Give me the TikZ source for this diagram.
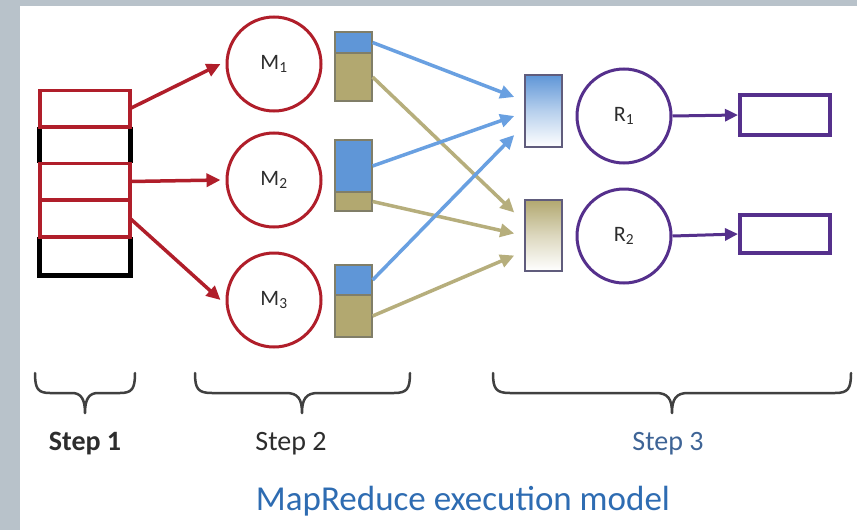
\documentclass[tikz,border=0pt]{standalone}
\usepackage{fontspec}
\setmainfont{Carlito}
\usetikzlibrary{arrows.meta,calc}
\definecolor{mred}{RGB}{176,30,42}
\definecolor{mblue}{RGB}{95,150,215}
\definecolor{ablue}{RGB}{105,160,225}
\definecolor{mtan}{RGB}{178,168,112}
\definecolor{atan}{RGB}{182,174,124}
\definecolor{mpurp}{RGB}{85,48,140}
\definecolor{bggray}{RGB}{184,194,202}
\definecolor{titleblue}{RGB}{46,108,178}
\definecolor{stepblue}{RGB}{62,100,150}
\definecolor{boxedge}{RGB}{128,126,104}
\definecolor{redge}{RGB}{96,92,124}
\definecolor{bracegray}{RGB}{64,64,64}
\definecolor{labelgray}{RGB}{45,45,45}
\begin{document}
\begin{tikzpicture}[x=1pt,y=-1pt,
  rowbox/.style={minimum width=90pt,minimum height=36.5pt,inner sep=0pt},
  redrow/.style={rowbox,draw=mred,line width=3.5pt},
  blackside/.style={draw=black,line width=5pt},
  mapnode/.style={circle,draw=mred,line width=3pt,minimum size=94pt,inner sep=0pt,
    font=\fontsize{22}{26}\selectfont,text=labelgray},
  rednode/.style={circle,draw=mpurp,line width=3pt,minimum size=94pt,inner sep=0pt,
    font=\fontsize{22}{26}\selectfont,text=labelgray},
  part/.style={draw=boxedge,line width=1.2pt,minimum width=37pt,inner sep=0pt},
  rinbox/.style={draw=redge,line width=1.5pt,minimum width=37pt,inner sep=0pt},
  outbox/.style={draw=mpurp,line width=4pt,minimum width=90pt,inner sep=0pt},
  redarrow/.style={draw=mred,line width=3.5pt,-{Triangle[length=14pt,width=13pt]}},
  bluearrow/.style={draw=ablue,line width=3.5pt,-{Triangle[length=14pt,width=13pt]}},
  tanarrow/.style={draw=atan,line width=3.5pt,-{Triangle[length=14pt,width=13pt]}},
  purparrow/.style={draw=mpurp,line width=3pt,-{Triangle[length=13pt,width=12pt]}},
  bracestyle/.style={draw=bracegray,line width=2.5pt,line cap=round,line join=round},
  steplabel/.style={anchor=base,font=\fontsize{28}{32}\selectfont,text=labelgray}
]
\useasboundingbox (0,0) rectangle (857,530);
\fill[bggray] (0,0) rectangle (857,530);
\fill[white] (20,6) rectangle (857,530);

% input splits
\node[rowbox] (r1) at (85,108.5) {};
\node[rowbox] (r2) at (85,145) {};
\node[rowbox] (r3) at (85,181.5) {};
\node[rowbox] (r4) at (85,218.5) {};
\node[rowbox,minimum height=38pt] (r5) at (85,256) {};
\draw[blackside] (r2.north west) -- (r2.south west) (r2.north east) -- (r2.south east);
\draw[blackside] (r5.north west) -- (r5.south west) -- (r5.south east) -- (r5.north east);
\node[redrow] at (r1) {};
\node[redrow] at (r3) {};
\node[redrow] at (r4) {};

% mappers
\node[mapnode] (m1) at (274,64) {M\textsubscript{1}};
\node[mapnode] (m2) at (274,180) {M\textsubscript{2}};
\node[mapnode] (m3) at (274,300) {M\textsubscript{3}};

% mapper outputs
\node[part,fill=mblue,minimum height=21pt] (mb1) at (353.5,42.5) {};
\node[part,fill=mtan,minimum height=48pt] (mt1) at (353.5,77) {};
\node[part,fill=mblue,minimum height=52pt] (mb2) at (353.5,166) {};
\node[part,fill=mtan,minimum height=19pt] (mt2) at (353.5,201.5) {};
\node[part,fill=mblue,minimum height=30pt] (mb3) at (353.5,280) {};
\node[part,fill=mtan,minimum height=42pt] (mt3) at (353.5,316) {};

% reducer inputs
\node[rinbox,minimum height=72pt,top color=mblue,bottom color=white,middle color=mblue!45] (rb1) at (543.5,111) {};
\node[rinbox,minimum height=71pt,top color=mtan,bottom color=white,middle color=mtan!45] (rb2) at (543.5,235.5) {};

% reducers
\node[rednode] (rc1) at (624,116) {R\textsubscript{1}};
\node[rednode] (rc2) at (624,236) {R\textsubscript{2}};

% outputs
\node[outbox,minimum height=40pt] (o1) at (785,115) {};
\node[outbox,minimum height=38pt] (o2) at (785,234) {};

% arrows
\draw[redarrow] (r1.east) -- ([xshift=-5pt]m1.west);
\draw[redarrow] (r3.east) -- ([xshift=-5pt]m2.west);
\draw[redarrow] (r4.east) -- ([xshift=-5pt]m3.west);

\draw[tanarrow] (mt1.east) -- ($(rb2.west)+(-10,-23)$);
\draw[tanarrow] (mt2.east) -- ($(rb2.west)+(-10,-2)$);
\draw[tanarrow] (mt3.east) -- ($(rb2.west)+(-10,20)$);
\draw[bluearrow] (mb1.east) -- ($(rb1.west)+(-10,-14)$);
\draw[bluearrow] (mb2.east) -- ($(rb1.west)+(-10,5)$);
\draw[bluearrow] (mb3.east) -- ($(rb1.west)+(-10,24)$);

\draw[purparrow] (rc1.east) -- (o1.west);
\draw[purparrow] (rc2.east) -- (o2.west);

% braces
\draw[bracestyle] (35,373) .. controls (35,389) and (38,393) .. (50,393) -- (72,393)
  .. controls (81,393) and (85,399) .. (85,413)
  .. controls (85,399) and (89,393) .. (98,393) -- (120,393)
  .. controls (132,393) and (135,389) .. (135,373);
\draw[bracestyle] (195,373) .. controls (195,389) and (198,393) .. (212,393) -- (286,393)
  .. controls (298,393) and (302,399) .. (302,413)
  .. controls (302,399) and (306,393) .. (318,393) -- (394,393)
  .. controls (407,393) and (410,389) .. (410,373);
\draw[bracestyle] (493,373) .. controls (493,389) and (496,393) .. (510,393) -- (656,393)
  .. controls (668,393) and (672,399) .. (672,413)
  .. controls (672,399) and (676,393) .. (688,393) -- (835,393)
  .. controls (848,393) and (851,389) .. (851,373);

% labels
\node[steplabel,font=\fontsize{28}{32}\selectfont\bfseries] (s1) at (85,450) {Step 1};
\node[steplabel] (s2) at (291,450) {Step 2};
\node[steplabel,text=stepblue] (s3) at (668,450) {Step 3};
\node[anchor=base,font=\fontsize{35}{40}\selectfont,text=titleblue] (title) at (463,510) {MapReduce execution model};
\end{tikzpicture}
\end{document}
